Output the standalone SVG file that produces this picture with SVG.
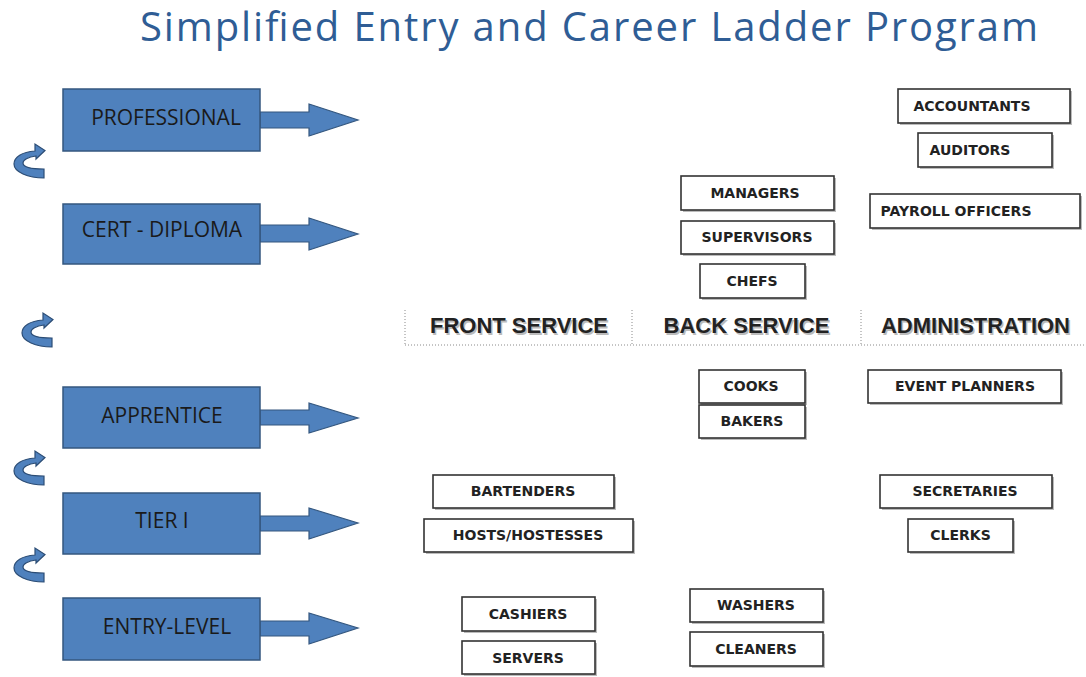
<svg xmlns="http://www.w3.org/2000/svg" width="1086" height="677" viewBox="0 0 1086 677">
  <style>
    .title { font-family: "Open Sans", "Liberation Sans", sans-serif; font-size: 40px; fill: #2F5D95; }
    .level rect { fill: #4F81BD; stroke: #34577F; stroke-width: 1.5; }
    .level text { font-family: "Open Sans", "Liberation Sans", sans-serif; font-size: 21px; fill: #1A1A1A; text-anchor: middle; }
    .job rect.box { fill: #FFFFFF; stroke: #333333; stroke-width: 1.6; }
    .job rect.shade { fill: #BBBBBB; }
    .job text { font-family: "DejaVu Sans", "Liberation Sans", sans-serif; font-weight: bold; font-size: 14px; fill: #222222; text-anchor: middle; }
    .head { font-family: "Liberation Sans", Arial, sans-serif; font-weight: bold; font-size: 22px; fill: #222222; text-anchor: middle; }
    .head-shadow { font-family: "Liberation Sans", Arial, sans-serif; font-weight: bold; font-size: 22px; fill: #BBBBBB; text-anchor: middle; }
    .rule { stroke: #8A8A8A; stroke-width: 1; stroke-dasharray: 1 2; fill: none; }
    .block-arrow { fill: #4F81BD; stroke: #34577F; stroke-width: 1.2; }
    .curl { fill: #4F81BD; stroke: #2C4D75; stroke-width: 1.2; }
  </style>
  <defs>
    <!-- small curved "step up" arrow -->
    <path id="curl" class="curl" d="M30,35 C14,35 0,29 0,21 C0,14 8,9 21,8 L21,1 L31,7.5 L22,16 L22,13 C14,14 9,17 9,20 C9,24 18,26 30,26 Z"/>
  </defs>

  <rect width="1086" height="677" fill="#FFFFFF"/>

  <text class="title" x="589" y="41" text-anchor="middle" textLength="898" lengthAdjust="spacing">Simplified Entry and Career Ladder Program</text>

  <!-- column headers and dotted rules -->
  <g id="columns">
    <line class="rule" x1="405" y1="310" x2="405" y2="345"/>
    <line class="rule" x1="632" y1="310" x2="632" y2="345"/>
    <line class="rule" x1="861" y1="310" x2="861" y2="345"/>
    <line class="rule" x1="405" y1="345" x2="1086" y2="345"/>
    <g id="col-front">
      <text class="head-shadow" x="520.5" y="334.5">FRONT SERVICE</text>
      <text class="head" x="519" y="333">FRONT SERVICE</text>
    </g>
    <g id="col-back">
      <text class="head-shadow" x="748" y="334.5">BACK SERVICE</text>
      <text class="head" x="746.5" y="333">BACK SERVICE</text>
    </g>
    <g id="col-admin">
      <text class="head-shadow" x="977" y="334.5">ADMINISTRATION</text>
      <text class="head" x="975.5" y="333">ADMINISTRATION</text>
    </g>
  </g>

  <!-- connectors: block arrows out of each level, curved step-up arrows -->
  <g id="connectors">
    <polygon class="block-arrow" points="260,112 309,112 309,104 358,120 309,136 309,128 260,128"/>
    <polygon class="block-arrow" points="260,225 309,225 309,218 358,234 309,250 309,242 260,242"/>
    <polygon class="block-arrow" points="260,410 309,410 309,403 358,418 309,433 309,425 260,425"/>
    <polygon class="block-arrow" points="260,516 309,516 309,508 358,523 309,539 309,531 260,531"/>
    <polygon class="block-arrow" points="260,621 309,621 309,613 358,628 309,644 309,636 260,636"/>
    <use href="#curl" x="14" y="143"/>
    <use href="#curl" x="22" y="312"/>
    <use href="#curl" x="14" y="450"/>
    <use href="#curl" x="14" y="547"/>
  </g>

  <!-- career levels -->
  <g id="level-professional" class="level">
    <rect x="63" y="89" width="197" height="62"/>
    <text x="166" y="125">PROFESSIONAL</text>
  </g>
  <g id="level-cert-diploma" class="level">
    <rect x="63" y="204" width="197" height="60"/>
    <text x="162" y="237">CERT - DIPLOMA</text>
  </g>
  <g id="level-apprentice" class="level">
    <rect x="63" y="387" width="197" height="61"/>
    <text x="162" y="423">APPRENTICE</text>
  </g>
  <g id="level-tier-1" class="level">
    <rect x="63" y="493" width="197" height="61"/>
    <text x="162" y="528">TIER I</text>
  </g>
  <g id="level-entry" class="level">
    <rect x="63" y="598" width="197" height="62"/>
    <text x="167" y="634">ENTRY-LEVEL</text>
  </g>

  <!-- job titles -->
  <g id="job-accountants" class="job">
    <rect class="shade" x="900" y="91" width="172" height="34"/>
    <rect class="box" x="898" y="89" width="172" height="34"/>
    <text x="972" y="111">ACCOUNTANTS</text>
  </g>
  <g id="job-auditors" class="job">
    <rect class="shade" x="920" y="135" width="134" height="34"/>
    <rect class="box" x="918" y="133" width="134" height="34"/>
    <text x="970" y="155">AUDITORS</text>
  </g>
  <g id="job-managers" class="job">
    <rect class="shade" x="683" y="178" width="153" height="34"/>
    <rect class="box" x="681" y="176" width="153" height="34"/>
    <text x="755" y="198">MANAGERS</text>
  </g>
  <g id="job-payroll-officers" class="job">
    <rect class="shade" x="872" y="196" width="210" height="34"/>
    <rect class="box" x="870" y="194" width="210" height="34"/>
    <text x="956" y="216">PAYROLL OFFICERS</text>
  </g>
  <g id="job-supervisors" class="job">
    <rect class="shade" x="683" y="223" width="153" height="33"/>
    <rect class="box" x="681" y="221" width="153" height="33"/>
    <text x="757" y="242">SUPERVISORS</text>
  </g>
  <g id="job-chefs" class="job">
    <rect class="shade" x="702" y="266" width="105" height="34"/>
    <rect class="box" x="700" y="264" width="105" height="34"/>
    <text x="752" y="286">CHEFS</text>
  </g>
  <g id="job-cooks" class="job">
    <rect class="shade" x="701" y="372" width="106" height="33"/>
    <rect class="box" x="699" y="370" width="106" height="33"/>
    <text x="751" y="391">COOKS</text>
  </g>
  <g id="job-bakers" class="job">
    <rect class="shade" x="701" y="407" width="106" height="33"/>
    <rect class="box" x="699" y="405" width="106" height="33"/>
    <text x="752" y="426">BAKERS</text>
  </g>
  <g id="job-event-planners" class="job">
    <rect class="shade" x="870" y="372" width="193" height="33"/>
    <rect class="box" x="868" y="370" width="193" height="33"/>
    <text x="965" y="391">EVENT PLANNERS</text>
  </g>
  <g id="job-bartenders" class="job">
    <rect class="shade" x="435" y="477" width="181" height="33"/>
    <rect class="box" x="433" y="475" width="181" height="33"/>
    <text x="523" y="496">BARTENDERS</text>
  </g>
  <g id="job-hosts" class="job">
    <rect class="shade" x="426" y="521" width="209" height="33"/>
    <rect class="box" x="424" y="519" width="209" height="33"/>
    <text x="528" y="540">HOSTS/HOSTESSES</text>
  </g>
  <g id="job-secretaries" class="job">
    <rect class="shade" x="882" y="477" width="172" height="33"/>
    <rect class="box" x="880" y="475" width="172" height="33"/>
    <text x="965" y="496">SECRETARIES</text>
  </g>
  <g id="job-clerks" class="job">
    <rect class="shade" x="910" y="521" width="105" height="33"/>
    <rect class="box" x="908" y="519" width="105" height="33"/>
    <text x="960.5" y="540">CLERKS</text>
  </g>
  <g id="job-cashiers" class="job">
    <rect class="shade" x="464" y="599" width="133" height="34"/>
    <rect class="box" x="462" y="597" width="133" height="34"/>
    <text x="528" y="619">CASHIERS</text>
  </g>
  <g id="job-servers" class="job">
    <rect class="shade" x="464" y="643" width="133" height="33"/>
    <rect class="box" x="462" y="641" width="133" height="33"/>
    <text x="528" y="663">SERVERS</text>
  </g>
  <g id="job-washers" class="job">
    <rect class="shade" x="692" y="591" width="133" height="33"/>
    <rect class="box" x="690" y="589" width="133" height="33"/>
    <text x="756" y="610">WASHERS</text>
  </g>
  <g id="job-cleaners" class="job">
    <rect class="shade" x="692" y="634" width="133" height="34"/>
    <rect class="box" x="690" y="632" width="133" height="34"/>
    <text x="756" y="654">CLEANERS</text>
  </g>
</svg>
